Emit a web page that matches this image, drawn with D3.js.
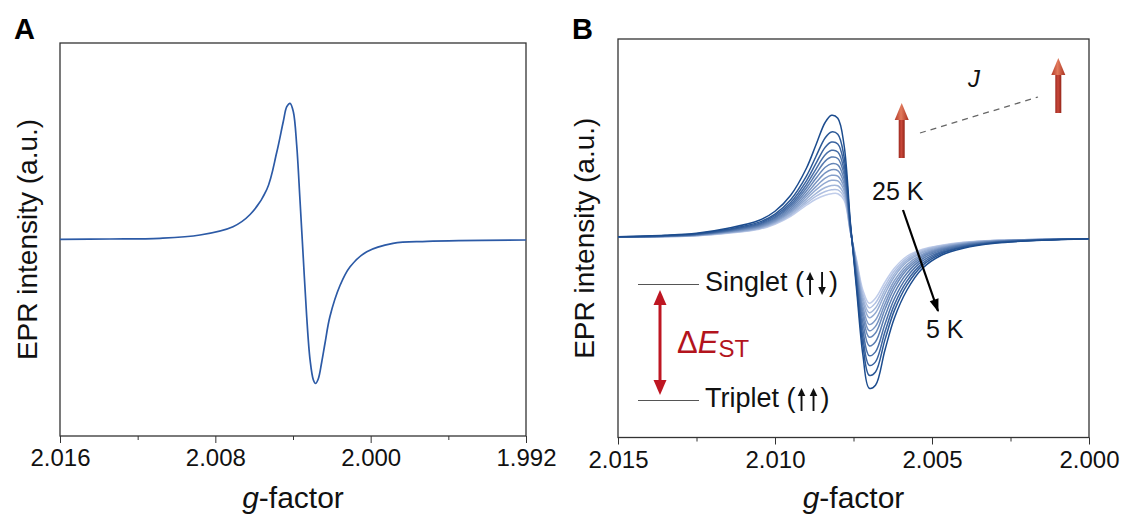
<!DOCTYPE html>
<html>
<head>
<meta charset="utf-8">
<script src="https://cdn.jsdelivr.net/npm/d3@7"></script>
<style>
  body { margin: 0; background: #fff; }
  svg { display: block; font-family: "Liberation Sans", Arial, sans-serif; }
  .tick text { font-size: 24px; fill: #111; }
</style>
</head>
<body>
<svg id="chart" width="1123" height="520"></svg>
<script>
// ---- panel A : single spectrum ----
var gA = [2.0160, 2.01343, 2.01085, 2.00879, 2.00709, 2.00621, 2.00535, 2.00484, 2.0045, 2.00432,
          2.00415, 2.00398, 2.00381, 2.00364, 2.00347, 2.0033, 2.00312, 2.00295, 2.00284, 2.0027,
          2.00252, 2.00235, 2.0021, 2.00158, 2.00106, 2.0002, 1.99885, 1.9971, 1.992];
var intA = [0.2, 0.5, 1.2, 4.5, 12.8, 25, 50, 87, 118, 132.8,
            136.2, 127.5, 94.5, 39.5, -18.5, -75.5, -120.5, -140.5, -144, -139.5,
            -122.5, -103.5, -77.2, -46, -27.2, -12.2, -3.8, -1.8, -0.5];
var majorA = [2.016, 2.008, 2.000, 1.992];
var minorA = [2.012, 2.004, 1.996];

// ---- panel B : temperature series, 5 K (first) to 25 K (last) ----
var gB = [2.015, 2.0135, 2.0125, 2.0115, 2.0105, 2.010, 2.0095, 2.009, 2.0087, 2.0084,
          2.0082, 2.0080, 2.0078, 2.0076, 2.0074, 2.0072, 2.0070, 2.0068, 2.0065, 2.0062,
          2.0058, 2.0053, 2.0047, 2.004, 2.003, 2.0015, 2.000];
var intB = [
  [1.5, 3, 5, 10, 18, 27, 43, 70, 93, 116, 123, 120, 93, 16, -52, -117, -150, -147, -112, -80, -52, -30, -17, -10, -5, -2, -0.5],
  [1.4, 2.7, 4.5, 8.9, 16.1, 24.2, 38.5, 62.1, 81.5, 100.5, 106.3, 103.9, 81.3, 13.9, -47.4, -107.1, -137, -133.7, -101.6, -72.4, -46.8, -27.1, -15.5, -9.1, -4.5, -1.8, -0.5],
  [1.3, 2.5, 4.1, 8.3, 14.9, 22.6, 35.8, 57.4, 74.6, 91.1, 96.2, 94.3, 74.2, 12.6, -43.9, -99.5, -127.1, -123.6, -93.7, -66.6, -42.9, -24.9, -14.3, -8.4, -4.2, -1.7, -0.5],
  [1.3, 2.3, 3.9, 7.8, 14, 21.2, 33.6, 53.5, 68.9, 83.4, 87.9, 86.3, 68.4, 11.5, -40.5, -92, -117.4, -113.6, -85.9, -60.8, -38.9, -22.7, -13.2, -7.7, -3.9, -1.6, -0.5],
  [1.2, 2.2, 3.7, 7.3, 13.2, 20.1, 31.8, 50.3, 64.2, 77.1, 81.2, 79.8, 63.7, 10.7, -37, -84.5, -107.5, -103.5, -78, -55, -35, -20.5, -12, -7, -3.5, -1.5, -0.5],
  [1.2, 2.1, 3.5, 6.9, 12.4, 19, 30, 47.2, 59.7, 71, 74.6, 73.4, 59.1, 9.8, -34, -78, -99, -94.8, -71.2, -50, -31.6, -18.6, -11, -6.4, -3.2, -1.4, -0.5],
  [1.2, 2, 3.3, 6.5, 11.8, 18, 28.4, 44.3, 55.5, 65.3, 68.5, 67.6, 54.8, 9.1, -31.7, -73, -92.5, -88.1, -66, -46.2, -29, -17.1, -10.2, -5.9, -3, -1.3, -0.5],
  [1.1, 1.9, 3.1, 6.2, 11.1, 17, 26.9, 41.7, 51.6, 60.1, 62.9, 62.2, 50.9, 8.3, -29.5, -68.3, -86.3, -81.8, -61, -42.5, -26.5, -15.8, -9.5, -5.5, -2.8, -1.3, -0.5],
  [1.1, 1.8, 2.9, 5.9, 10.5, 16.2, 25.6, 39.3, 48.2, 55.4, 57.9, 57.3, 47.4, 7.7, -27.1, -63.1, -79.5, -74.8, -55.6, -38.5, -23.8, -14.2, -8.7, -5, -2.5, -1.2, -0.5],
  [1.1, 1.7, 2.8, 5.5, 10, 15.4, 24.2, 36.9, 44.7, 50.7, 52.8, 52.5, 43.8, 7.1, -25.4, -59.3, -74.5, -69.7, -51.6, -35.6, -21.8, -13.1, -8.1, -4.7, -2.3, -1.1, -0.5],
  [1, 1.6, 2.6, 5.3, 9.5, 14.7, 23.1, 34.9, 41.8, 46.7, 48.5, 48.3, 40.8, 6.5, -23.6, -55.5, -69.6, -64.7, -47.7, -32.7, -19.8, -12, -7.5, -4.3, -2.2, -1.1, -0.5],
  [1, 1.5, 2.5, 5, 9, 14, 22, 33, 39, 43, 44.5, 44.5, 38, 6, -22, -52, -65, -60, -44, -30, -18, -11, -7, -4, -2, -1, -0.5]
];
var majorB = [2.015, 2.010, 2.005, 2.000];
var minorB = [2.0125, 2.0075, 2.0025];

var svg = d3.select('#chart');

// draws frame + bottom axis + titles, returns the scales
function drawPanel(box, xDom, yHalf, majors, minors, letter) {
  var x = d3.scaleLinear().domain(xDom).range([box.left, box.right]);
  var y = d3.scaleLinear().domain([-yHalf, yHalf]).range([box.bottom, box.top]);

  svg.append('g')
    .attr('transform', 'translate(0,' + box.bottom + ')')
    .call(d3.axisBottom(x).tickValues(minors).tickSize(4).tickFormat(''))
    .call(function(g) { g.select('.domain').remove(); g.selectAll('line').attr('stroke', '#333'); });

  svg.append('g')
    .attr('transform', 'translate(0,' + box.bottom + ')')
    .call(d3.axisBottom(x).tickValues(majors).tickSize(7).tickPadding(6).tickFormat(d3.format('.3f')))
    .call(function(g) { g.select('.domain').remove(); g.selectAll('line').attr('stroke', '#333'); });

  svg.append('rect')
    .attr('x', box.left).attr('y', box.top)
    .attr('width', box.right - box.left).attr('height', box.bottom - box.top)
    .attr('fill', 'none').attr('stroke', '#333').attr('stroke-width', 1.3);

  var cx = (box.left + box.right) / 2;
  var xt = svg.append('text')
    .attr('x', cx).attr('y', 508)
    .attr('text-anchor', 'middle')
    .style('font-size', '30px').attr('fill', '#111');
  xt.append('tspan').style('font-style', 'italic').text('g');
  xt.append('tspan').text('-factor');

  svg.append('text')
    .attr('transform', 'translate(' + box.yLabelX + ',' + ((box.top + box.bottom) / 2) + ') rotate(-90)')
    .attr('text-anchor', 'middle')
    .style('font-size', '28px').attr('fill', '#111')
    .text('EPR intensity (a.u.)');

  svg.append('text')
    .attr('x', box.left - 46).attr('y', 39)
    .style('font-size', '29px').style('font-weight', 'bold').attr('fill', '#000')
    .text(letter);

  return { x: x, y: y };
}

// panel A
var A = drawPanel({ left: 60, right: 526, top: 43, bottom: 436, yLabelX: 37 },
                  [2.016, 1.992], 196.5, majorA, minorA, 'A');

var lineA = d3.line()
  .x(function(d) { return A.x(d[0]); })
  .y(function(d) { return A.y(d[1]); })
  .curve(d3.curveCatmullRom.alpha(0.5));

svg.append('path')
  .datum(d3.zip(gA, intA))
  .attr('d', lineA)
  .attr('fill', 'none')
  .attr('stroke', '#2c5aa6')
  .attr('stroke-width', 1.7);

// panel B
var B = drawPanel({ left: 618, right: 1089, top: 39, bottom: 437.5, yLabelX: 594 },
                  [2.015, 2.000], 199.25, majorB, minorB, 'B');

var colorB = d3.scaleLinear()
  .domain([0, intB.length - 1])
  .range(['#1c4c8e', '#c0cdea'])
  .interpolate(d3.interpolateRgb);

var lineB = d3.line()
  .x(function(d) { return B.x(d[0]); })
  .y(function(d) { return B.y(d[1]); })
  .curve(d3.curveCatmullRom.alpha(0.5));

// lightest first so the darker (colder) traces sit on top
var order = d3.range(intB.length).reverse();
svg.append('g').selectAll('path')
  .data(order)
  .enter().append('path')
  .attr('d', function(i) { return lineB(d3.zip(gB, intB[i])); })
  .attr('fill', 'none')
  .attr('stroke', function(i) { return colorB(i); })
  .attr('stroke-width', 1.5);

// ---- annotations in panel B ----
var defs = svg.append('defs');

var shaftGrad = defs.append('linearGradient').attr('id', 'shaftGrad')
  .attr('x1', '0%').attr('x2', '100%').attr('y1', '0%').attr('y2', '0%');
shaftGrad.append('stop').attr('offset', '0%').attr('stop-color', '#9e2a20');
shaftGrad.append('stop').attr('offset', '45%').attr('stop-color', '#c8483a');
shaftGrad.append('stop').attr('offset', '100%').attr('stop-color', '#962519');

var headGrad = defs.append('linearGradient').attr('id', 'headGrad')
  .attr('x1', '0%').attr('x2', '100%').attr('y1', '0%').attr('y2', '0%');
headGrad.append('stop').attr('offset', '0%').attr('stop-color', '#b23a2a');
headGrad.append('stop').attr('offset', '45%').attr('stop-color', '#e27a5c');
headGrad.append('stop').attr('offset', '100%').attr('stop-color', '#a8301f');

function spin(cx, tipY, baseY) {
  svg.append('rect')
    .attr('x', cx - 3).attr('y', tipY + 14)
    .attr('width', 6).attr('height', baseY - tipY - 14)
    .attr('fill', 'url(#shaftGrad)');
  svg.append('path')
    .attr('d', 'M' + (cx - 7) + ',' + (tipY + 17) + 'L' + cx + ',' + tipY + 'L' + (cx + 7) + ',' + (tipY + 17) + 'Z')
    .attr('fill', 'url(#headGrad)');
}
spin(901.7, 103, 158);
spin(1058.3, 58, 113);

svg.append('line')
  .attr('x1', 920).attr('y1', 133).attr('x2', 1038).attr('y2', 97)
  .attr('stroke', '#666').attr('stroke-width', 1.3)
  .attr('stroke-dasharray', '6,5');

svg.append('text')
  .attr('x', 968).attr('y', 87)
  .style('font-size', '24px').style('font-style', 'italic').attr('fill', '#111')
  .text('J');

// temperature arrow
defs.append('marker').attr('id', 'blackHead')
  .attr('viewBox', '0 0 10 10').attr('refX', 9).attr('refY', 5)
  .attr('markerWidth', 7).attr('markerHeight', 6).attr('orient', 'auto')
  .append('path').attr('d', 'M0,1.5L10,5L0,8.5Z').attr('fill', '#000');

svg.append('line')
  .attr('x1', 903).attr('y1', 210).attr('x2', 938).attr('y2', 311)
  .attr('stroke', '#000').attr('stroke-width', 2.2)
  .attr('marker-end', 'url(#blackHead)');

svg.append('text').attr('x', 872).attr('y', 200)
  .style('font-size', '25px').attr('fill', '#111').text('25 K');
svg.append('text').attr('x', 926).attr('y', 338)
  .style('font-size', '25px').attr('fill', '#111').text('5 K');

// singlet / triplet levels
svg.append('line').attr('x1', 638).attr('x2', 699).attr('y1', 284.5).attr('y2', 284.5)
  .attr('stroke', '#555').attr('stroke-width', 1.2);
svg.append('line').attr('x1', 638).attr('x2', 699).attr('y1', 400.5).attr('y2', 400.5)
  .attr('stroke', '#555').attr('stroke-width', 1.2);

// label with small drawn spin arrows between the brackets
function levelLabel(x, y, name, dirs) {
  var t = svg.append('text').attr('x', x).attr('y', y)
    .style('font-size', '27px').attr('fill', '#111').text(name + ' (');
  var ax = x + t.node().getComputedTextLength() + 6;
  dirs.forEach(function(up, i) {
    var cx = ax + i * 12;
    var top = y - 19, bot = y + 4;
    svg.append('line').attr('x1', cx).attr('x2', cx)
      .attr('y1', up ? top + 6 : top).attr('y2', up ? bot : bot - 6)
      .attr('stroke', '#111').attr('stroke-width', 1.9);
    var tip = up ? top : bot, base = up ? top + 8 : bot - 8;
    svg.append('path')
      .attr('d', 'M' + (cx - 3.8) + ',' + base + 'L' + cx + ',' + tip + 'L' + (cx + 3.8) + ',' + base + 'Z')
      .attr('fill', '#111');
  });
  svg.append('text').attr('x', ax + (dirs.length - 1) * 12 + 7).attr('y', y)
    .style('font-size', '27px').attr('fill', '#111').text(')');
}
levelLabel(705, 291, 'Singlet', [true, false]);
levelLabel(705, 407, 'Triplet', [true, true]);

// ΔE_ST double arrow
var red = '#be1622';
svg.append('line').attr('x1', 660).attr('x2', 660).attr('y1', 302).attr('y2', 383)
  .attr('stroke', red).attr('stroke-width', 3);
svg.append('path').attr('d', 'M653.5,305L660,290L666.5,305Z').attr('fill', red);
svg.append('path').attr('d', 'M653.5,380L660,395L666.5,380Z').attr('fill', red);

var dE = svg.append('text').attr('x', 677).attr('y', 353)
  .style('font-size', '31px').attr('fill', '#b3141d');
dE.append('tspan').text('\u0394');
dE.append('tspan').style('font-style', 'italic').text('E');
dE.append('tspan').attr('dy', 4).style('font-size', '24px').text('ST');
</script>
</body>
</html>
